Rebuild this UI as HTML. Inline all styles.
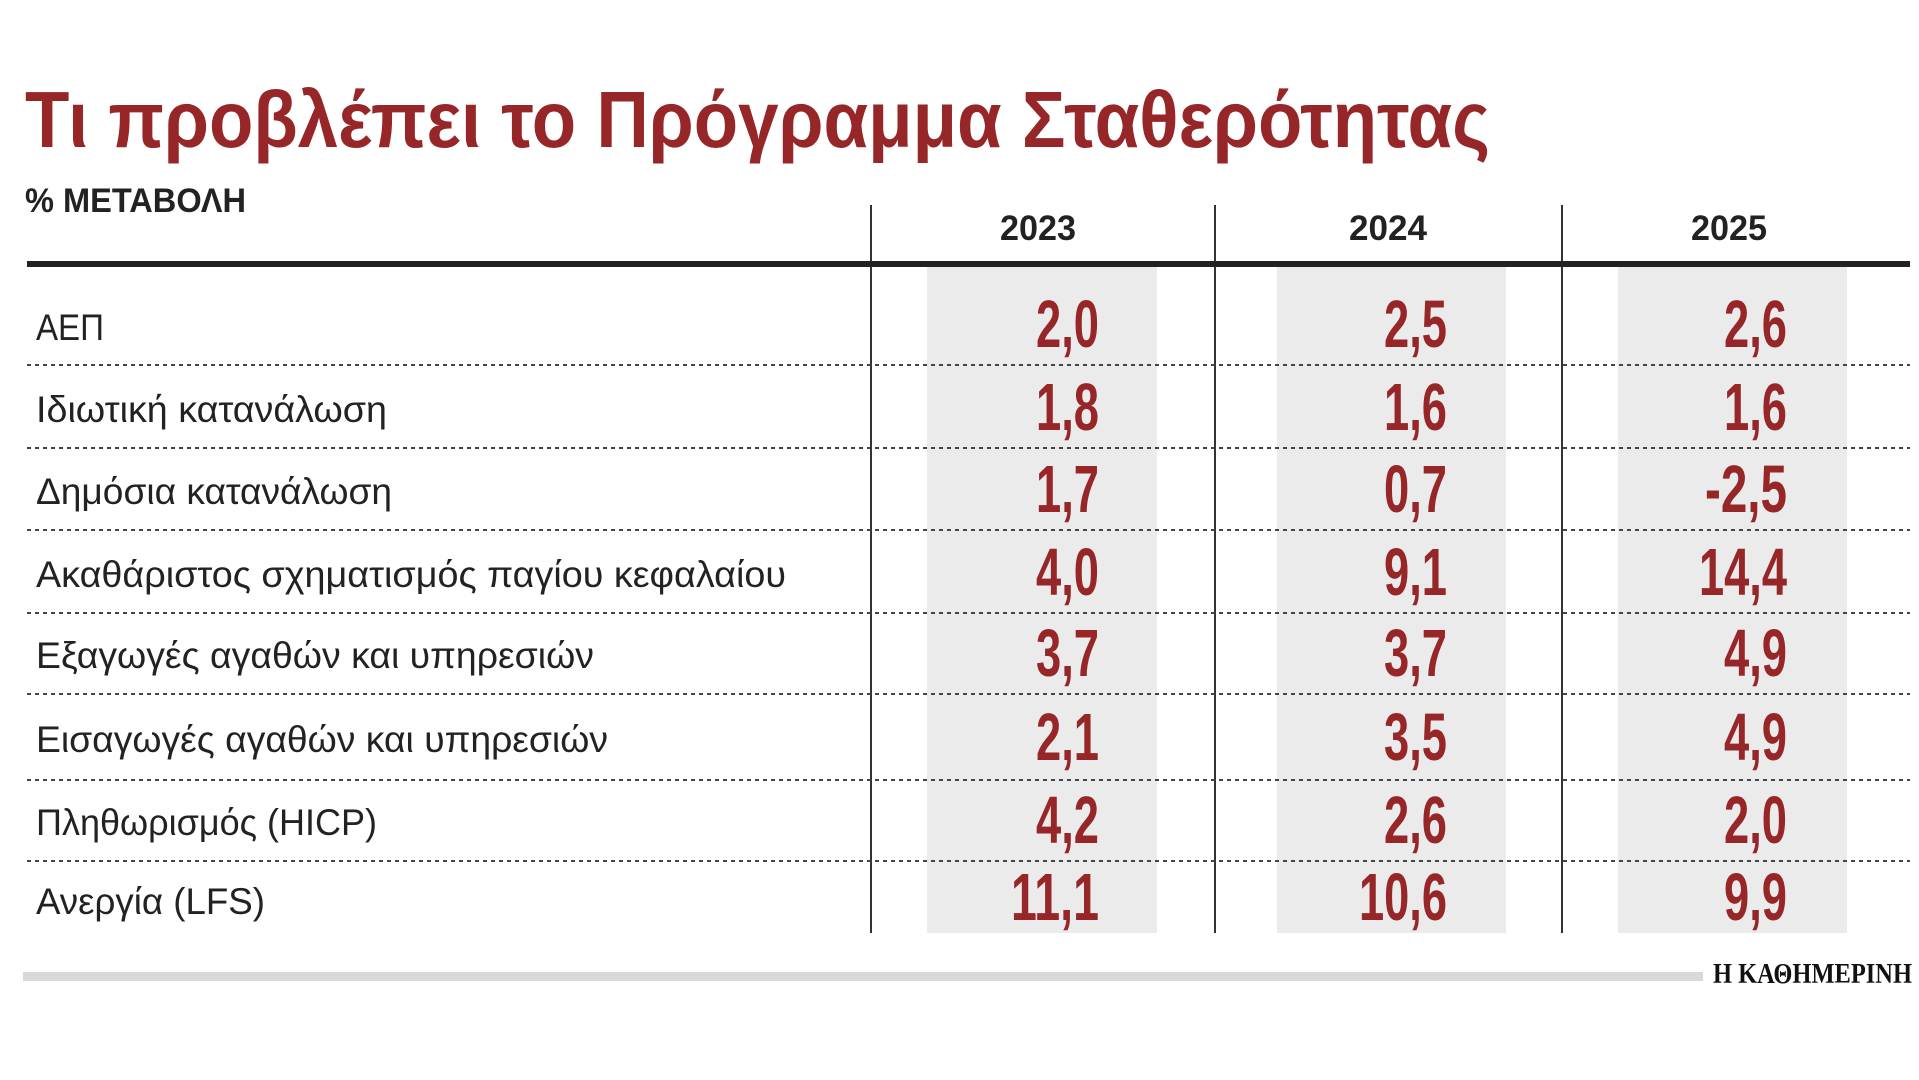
<!DOCTYPE html>
<html><head><meta charset="utf-8"><style>html,body{margin:0;padding:0;background:#fff;}svg{display:block}</style></head>
<body>
<svg width="1919" height="1080" viewBox="0 0 1919 1080" xmlns="http://www.w3.org/2000/svg">
<rect width="1919" height="1080" fill="#fff"/>
<text x="25" y="147" font-family="Liberation Sans, sans-serif" font-weight="bold" font-size="80" fill="#962628" textLength="1465" lengthAdjust="spacingAndGlyphs">Τι προβλέπει το Πρόγραμμα Σταθερότητας</text>
<text x="25" y="212" font-family="Liberation Sans, sans-serif" font-weight="bold" font-size="34" fill="#222" textLength="221" lengthAdjust="spacingAndGlyphs">% ΜΕΤΑΒΟΛΗ</text>
<g fill="#ebebeb">
<rect x="927" y="267" width="230" height="666"/>
<rect x="1277" y="267" width="229" height="666"/>
<rect x="1618" y="267" width="229" height="666"/>
</g>
<g stroke="#333" stroke-width="2">
<line x1="871" y1="205" x2="871" y2="933"/>
<line x1="1215" y1="205" x2="1215" y2="933"/>
<line x1="1562" y1="205" x2="1562" y2="933"/>
</g>
<rect x="27" y="261" width="1883" height="6" fill="#222"/>
<g font-family="Liberation Sans, sans-serif" font-weight="bold" font-size="35" fill="#222" text-anchor="middle">
<text x="1038" y="240" textLength="76" lengthAdjust="spacingAndGlyphs">2023</text>
<text x="1388" y="240" textLength="78" lengthAdjust="spacingAndGlyphs">2024</text>
<text x="1729" y="240" textLength="76" lengthAdjust="spacingAndGlyphs">2025</text>
</g>
<g stroke="#444" stroke-width="2" stroke-dasharray="4 4">
<line x1="27" y1="365" x2="1910" y2="365"/>
<line x1="27" y1="448" x2="1910" y2="448"/>
<line x1="27" y1="530" x2="1910" y2="530"/>
<line x1="27" y1="613" x2="1910" y2="613"/>
<line x1="27" y1="694" x2="1910" y2="694"/>
<line x1="27" y1="780" x2="1910" y2="780"/>
<line x1="27" y1="861" x2="1910" y2="861"/>
</g>
<g font-family="Liberation Sans, sans-serif" font-size="37" fill="#222">
<text x="36" y="340" textLength="68" lengthAdjust="spacingAndGlyphs">ΑΕΠ</text>
<text x="36" y="422" textLength="351" lengthAdjust="spacingAndGlyphs">Ιδιωτική κατανάλωση</text>
<text x="36" y="504" textLength="356" lengthAdjust="spacingAndGlyphs">Δημόσια κατανάλωση</text>
<text x="36" y="587" textLength="750" lengthAdjust="spacingAndGlyphs">Ακαθάριστος σχηματισμός παγίου κεφαλαίου</text>
<text x="36" y="668" textLength="558" lengthAdjust="spacingAndGlyphs">Εξαγωγές αγαθών και υπηρεσιών</text>
<text x="36" y="752" textLength="572" lengthAdjust="spacingAndGlyphs">Εισαγωγές αγαθών και υπηρεσιών</text>
<text x="36" y="835" textLength="341" lengthAdjust="spacingAndGlyphs">Πληθωρισμός (HICP)</text>
<text x="36" y="914" textLength="229" lengthAdjust="spacingAndGlyphs">Ανεργία (LFS)</text>
</g>
<g font-family="Liberation Sans, sans-serif" font-weight="bold" font-size="67" fill="#962628" text-anchor="end">
<text x="1099" y="347" textLength="63" lengthAdjust="spacingAndGlyphs">2,0</text>
<text x="1447" y="347" textLength="63" lengthAdjust="spacingAndGlyphs">2,5</text>
<text x="1787" y="347" textLength="63" lengthAdjust="spacingAndGlyphs">2,6</text>
<text x="1099" y="430" textLength="63" lengthAdjust="spacingAndGlyphs">1,8</text>
<text x="1447" y="430" textLength="63" lengthAdjust="spacingAndGlyphs">1,6</text>
<text x="1787" y="430" textLength="63" lengthAdjust="spacingAndGlyphs">1,6</text>
<text x="1099" y="512" textLength="63" lengthAdjust="spacingAndGlyphs">1,7</text>
<text x="1447" y="512" textLength="63" lengthAdjust="spacingAndGlyphs">0,7</text>
<text x="1787" y="512" textLength="82" lengthAdjust="spacingAndGlyphs">-2,5</text>
<text x="1099" y="595" textLength="63" lengthAdjust="spacingAndGlyphs">4,0</text>
<text x="1447" y="595" textLength="63" lengthAdjust="spacingAndGlyphs">9,1</text>
<text x="1787" y="595" textLength="88" lengthAdjust="spacingAndGlyphs">14,4</text>
<text x="1099" y="676" textLength="63" lengthAdjust="spacingAndGlyphs">3,7</text>
<text x="1447" y="676" textLength="63" lengthAdjust="spacingAndGlyphs">3,7</text>
<text x="1787" y="676" textLength="63" lengthAdjust="spacingAndGlyphs">4,9</text>
<text x="1099" y="760" textLength="63" lengthAdjust="spacingAndGlyphs">2,1</text>
<text x="1447" y="760" textLength="63" lengthAdjust="spacingAndGlyphs">3,5</text>
<text x="1787" y="760" textLength="63" lengthAdjust="spacingAndGlyphs">4,9</text>
<text x="1099" y="843" textLength="63" lengthAdjust="spacingAndGlyphs">4,2</text>
<text x="1447" y="843" textLength="63" lengthAdjust="spacingAndGlyphs">2,6</text>
<text x="1787" y="843" textLength="63" lengthAdjust="spacingAndGlyphs">2,0</text>
<text x="1099" y="920" textLength="88" lengthAdjust="spacingAndGlyphs">11,1</text>
<text x="1447" y="920" textLength="88" lengthAdjust="spacingAndGlyphs">10,6</text>
<text x="1787" y="920" textLength="63" lengthAdjust="spacingAndGlyphs">9,9</text>
</g>
<rect x="23" y="972" width="1680" height="9" fill="#d9d9d9"/>
<text x="1713" y="983" font-family="Liberation Serif, serif" font-weight="bold" font-size="28" fill="#111" textLength="199" lengthAdjust="spacingAndGlyphs">Η ΚΑΘΗΜΕΡΙΝΗ</text>
</svg>
</body></html>
